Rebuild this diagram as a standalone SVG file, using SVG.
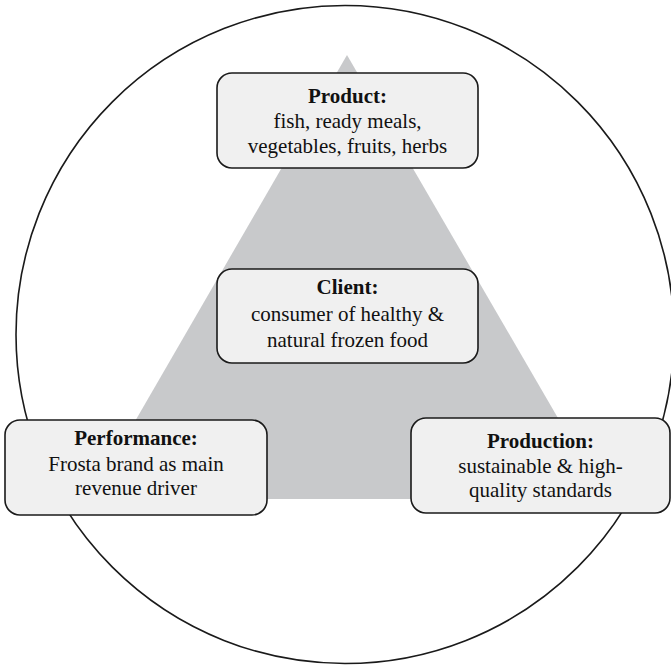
<svg xmlns="http://www.w3.org/2000/svg" width="671" height="665" viewBox="0 0 671 665">
  <style>
    .box { fill: #f0f0f0; stroke: #1a1a1a; stroke-width: 1.6; }
    .t { font-family: "Liberation Serif", "Times New Roman", serif; font-size: 21px; fill: #111; text-anchor: middle; }
    .h { font-weight: bold; }
  </style>
  <rect width="671" height="665" fill="#ffffff"/>
  <!-- outer circle -->
  <circle cx="345" cy="334.5" r="329" fill="none" stroke="#1a1a1a" stroke-width="1.6"/>
  <!-- central triangle -->
  <polygon points="347,55 90,499 605,499" fill="#c8c9cb"/>

  <g id="product">
    <rect class="box" x="217" y="73" width="261" height="95" rx="15"/>
    <text class="t h" x="347.5" y="103">Product:</text>
    <text class="t" x="347.5" y="128">fish, ready meals,</text>
    <text class="t" x="347.5" y="153">vegetables, fruits, herbs</text>
  </g>

  <g id="client">
    <rect class="box" x="217" y="269" width="261" height="94" rx="15"/>
    <text class="t h" x="347.5" y="294">Client:</text>
    <text class="t" x="347.5" y="321">consumer of healthy &amp;</text>
    <text class="t" x="347.5" y="347">natural frozen food</text>
  </g>

  <g id="performance">
    <rect class="box" x="5" y="420" width="262" height="95" rx="15"/>
    <text class="t h" x="136" y="445">Performance:</text>
    <text class="t" x="136" y="471">Frosta brand as main</text>
    <text class="t" x="136" y="495">revenue driver</text>
  </g>

  <g id="production">
    <rect class="box" x="411" y="418" width="259" height="95" rx="15"/>
    <text class="t h" x="540.5" y="448">Production:</text>
    <text class="t" x="540.5" y="473">sustainable &amp; high-</text>
    <text class="t" x="540.5" y="497">quality standards</text>
  </g>

  <g id="connectors"></g>
</svg>
